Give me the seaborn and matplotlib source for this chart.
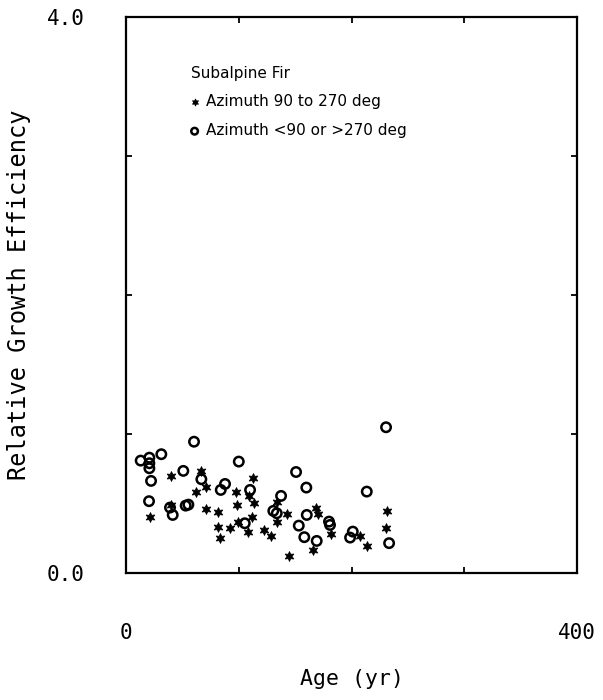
import numpy as np
import matplotlib
matplotlib.use("Agg")
import matplotlib.pyplot as plt
import pandas as pd
import seaborn as sns

# Subalpine fir, azimuth 90 to 270 deg (stars)
south_age = [39.6, 21.3, 39.9, 66.3, 71.0, 62.1, 71.0, 81.9, 81.3, 83.4, 92.2,
             97.3, 98.7, 99.6, 112.9, 113.8, 109.4, 111.5, 108.5, 122.4, 128.6,
             134.2, 133.7, 142.5, 168.2, 170.6, 181.8, 144.6, 166.1, 207.5,
             214.0, 231.2, 230.3]
south_rge = [0.696, 0.403, 0.487, 0.732, 0.619, 0.578, 0.460, 0.435, 0.331,
             0.247, 0.324, 0.583, 0.487, 0.363, 0.683, 0.499, 0.552, 0.403,
             0.295, 0.307, 0.264, 0.511, 0.367, 0.420, 0.468, 0.420, 0.276,
             0.122, 0.163, 0.264, 0.192, 0.444, 0.319]

# azimuth <90 or >270 deg (open circles)
north_age = [13.0, 20.7, 20.7, 20.7, 31.3, 60.3, 22.2, 50.8, 20.4, 39.0, 41.4,
             52.9, 55.3, 66.8, 100.0, 87.8, 84.0, 110.0, 105.3, 130.6, 230.6,
             150.8, 159.9, 213.5, 137.5, 133.7, 160.3, 153.2, 180.0, 180.9,
             158.1, 169.1, 201.1, 198.7, 233.3]
north_rge = [0.806, 0.827, 0.787, 0.751, 0.852, 0.942, 0.660, 0.732, 0.514,
             0.468, 0.415, 0.482, 0.489, 0.672, 0.799, 0.638, 0.595, 0.595,
             0.355, 0.444, 1.046, 0.724, 0.612, 0.583, 0.552, 0.427, 0.415,
             0.338, 0.367, 0.343, 0.255, 0.228, 0.295, 0.252, 0.212]

south = pd.DataFrame({"age": south_age, "rge": south_rge})
north = pd.DataFrame({"age": north_age, "rge": north_rge})

sns.set_style("ticks")
plt.rcParams["font.family"] = ["DejaVu Sans"]
for k in ["text.color", "axes.labelcolor", "xtick.color", "ytick.color",
          "axes.edgecolor"]:
    plt.rcParams[k] = "black"

mono = "DejaVu Sans Mono"

fig = plt.figure(figsize=(6.03, 7.0), dpi=100)
ax = fig.add_axes([0.209, 0.182, 0.748, 0.794])

sns.scatterplot(data=south, x="age", y="rge", ax=ax, marker=(6, 1, 0),
                color="black", edgecolor="black", s=50, linewidth=0.6,
                label="Azimuth 90 to 270 deg")
sns.scatterplot(data=north, x="age", y="rge", ax=ax, marker="o",
                facecolor="none", edgecolor="black", s=46, linewidth=1.8,
                label="Azimuth <90 or >270 deg")

ax.set_xlim(0, 400)
ax.set_ylim(0, 4)
ax.set_xticks([0, 100, 200, 300, 400])
ax.set_xticklabels(["0", "", "", "", "400"], family=mono)
ax.set_yticks([0, 1, 2, 3, 4])
ax.set_yticklabels(["0.0", "", "", "", "4.0"], family=mono)
ax.tick_params(direction="in", length=4, width=1.3, top=True, right=True,
               labelsize=15)
ax.tick_params(axis="x", pad=36)
ax.tick_params(axis="y", pad=30)
for sp in ax.spines.values():
    sp.set_linewidth(1.6)
    sp.set_visible(True)

ax.set_xlabel("Age (yr)", fontsize=15.5, labelpad=19, family=mono)
ax.set_ylabel("Relative Growth Efficiency", fontsize=17, labelpad=11.5,
              family=mono)

leg = ax.legend(title="Subalpine Fir", loc="upper left",
                bbox_to_anchor=(0.13, 0.923), frameon=False, fontsize=11,
                title_fontsize=11, markerscale=0.7, handlelength=0.5,
                handletextpad=0.5, labelspacing=0.9, borderaxespad=0)
leg._legend_box.align = "left"

fig.savefig("out.png", dpi=100)
